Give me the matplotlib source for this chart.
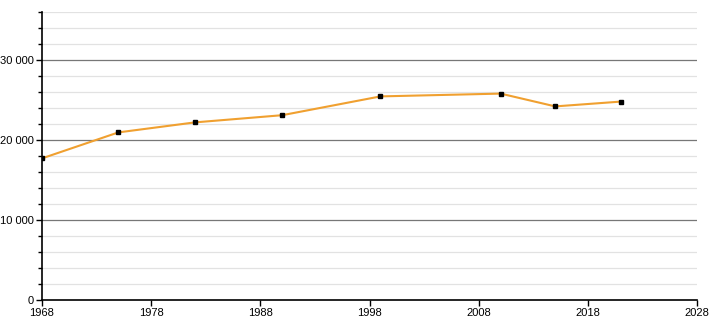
import matplotlib.pyplot as plt
from matplotlib.ticker import MultipleLocator, FuncFormatter

years = [1968, 1975, 1982, 1990, 1999, 2010, 2015, 2021]
population = [17700, 20950, 22200, 23100, 25450, 25800, 24200, 24800]
x_ticks = list(range(1968, 2029, 10))

plt.rcParams['font.family'] = ['Liberation Sans', 'DejaVu Sans']

fig = plt.figure(figsize=(7.1, 3.2), dpi=100)
ax = fig.add_axes([0.059, 0.0625, 0.923, 0.9])

# grid: light every 2000, dark every 10000
for v in range(2000, 36001, 2000):
    if v % 10000 == 0:
        ax.axhline(v, color='#777777', lw=0.9, zorder=1)
    else:
        ax.axhline(v, color='#e2e2e2', lw=0.9, zorder=1)

ax.plot(years, population, color='#f0a030', lw=1.5, zorder=3)
ax.plot(years, population, ls='none', marker='s', ms=3.2, color='black', zorder=4)

ax.set_xlim(1968, 2028)
ax.set_ylim(0, 36000)
ax.set_xticks(x_ticks)
ax.yaxis.set_major_locator(MultipleLocator(10000))
ax.yaxis.set_minor_locator(MultipleLocator(2000))
ax.yaxis.set_major_formatter(FuncFormatter(lambda v, p: f"{int(v):,}".replace(',', ' ')))

for s in ['top', 'right']:
    ax.spines[s].set_visible(False)
for s in ['left', 'bottom']:
    ax.spines[s].set_linewidth(1.2)
ax.tick_params(axis='both', labelsize=8, length=4, width=1, pad=2)
ax.tick_params(axis='y', which='minor', length=3, width=1)

fig.savefig('out.png', dpi=100)
